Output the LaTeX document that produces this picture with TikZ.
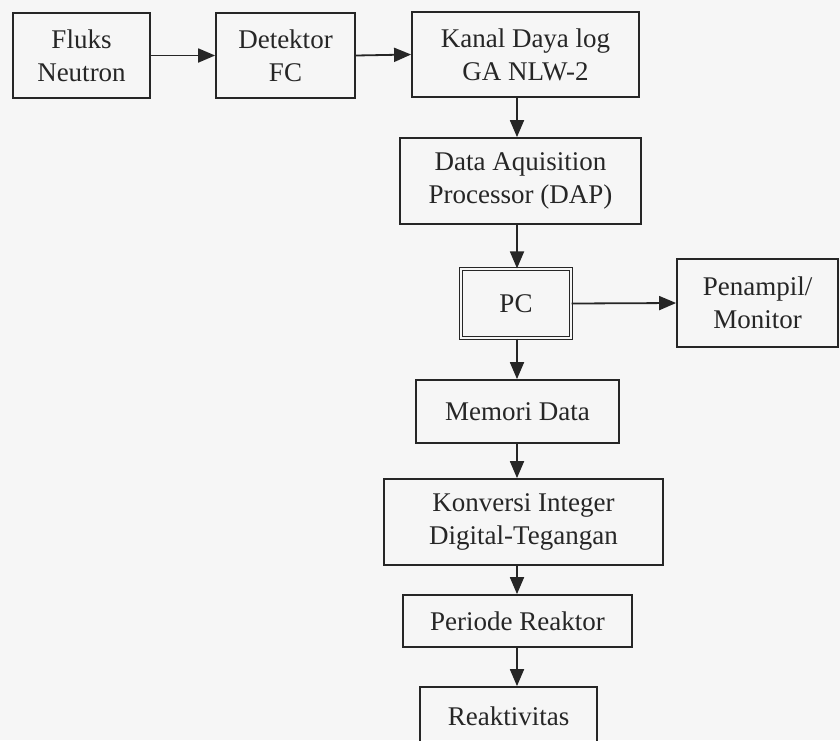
\documentclass[tikz,border=0pt]{standalone}
\usepackage{fontspec}
\setmainfont{Liberation Serif}
\usetikzlibrary{arrows.meta}
\definecolor{ink}{HTML}{262626}
\definecolor{paper}{HTML}{F6F6F6}
\begin{document}
\begin{tikzpicture}[x=1pt,y=-1pt,
  blk/.style={draw=ink, line width=1.8pt, inner sep=0pt, align=center, text=ink,
    font=\fontsize{27}{33}\selectfont},
  arr/.style={draw=ink, line width=1.8pt, -{Triangle[length=17pt,width=14pt]}}]
\fill[paper] (0,0) rectangle (840,740);
\useasboundingbox (0,0) rectangle (840,740);
\clip (0,0) rectangle (840,740);
\node[blk, minimum width=137, minimum height=85] (fluks) at (81.5,55.5) {Fluks\\Neutron};
\node[blk, minimum width=139, minimum height=85] (det) at (285.5,55.5) {Detektor\\FC};
\node[blk, minimum width=227, minimum height=85] (kanal) at (525.5,54.5) {Kanal Daya log\\GA NLW-2};
\node[blk, minimum width=241, minimum height=86] (dap) at (520.5,181) {Data Aquisition\\Processor (DAP)};
\node[blk, line width=1.2pt, double=paper, double distance=2.5pt, minimum width=110, minimum height=69] (pc) at (516,303.5) {PC};
\node[blk, minimum width=161, minimum height=88] (pen) at (757.5,303) {Penampil/\\Monitor};
\node[blk, minimum width=203, minimum height=63] (mem) at (517.5,411.5) {Memori Data};
\node[blk, minimum width=279, minimum height=86] (konv) at (523.5,522) {Konversi Integer\\Digital-Tegangan};
\node[blk, minimum width=229, minimum height=52] (per) at (517.5,621) {Periode Reaktor};
\node[blk, minimum width=177, minimum height=58] (reak) at (508.5,716) {Reaktivitas};
\coordinate (col) at (517,0);
\draw[arr] (fluks.east) -- (det.west);
\draw[arr] (det.east) -- (kanal.west);
\draw[arr] (kanal.south -| col) -- (dap.north -| col);
\draw[arr] (dap.south -| col) -- (pc.north -| col);
\draw[arr] (pc.east) -- (pen.west);
\draw[arr] (pc.south -| col) -- (mem.north -| col);
\draw[arr] (mem.south -| col) -- (konv.north -| col);
\draw[arr] (konv.south -| col) -- (per.north -| col);
\draw[arr] (per.south -| col) -- (reak.north -| col);
\end{tikzpicture}
\end{document}
